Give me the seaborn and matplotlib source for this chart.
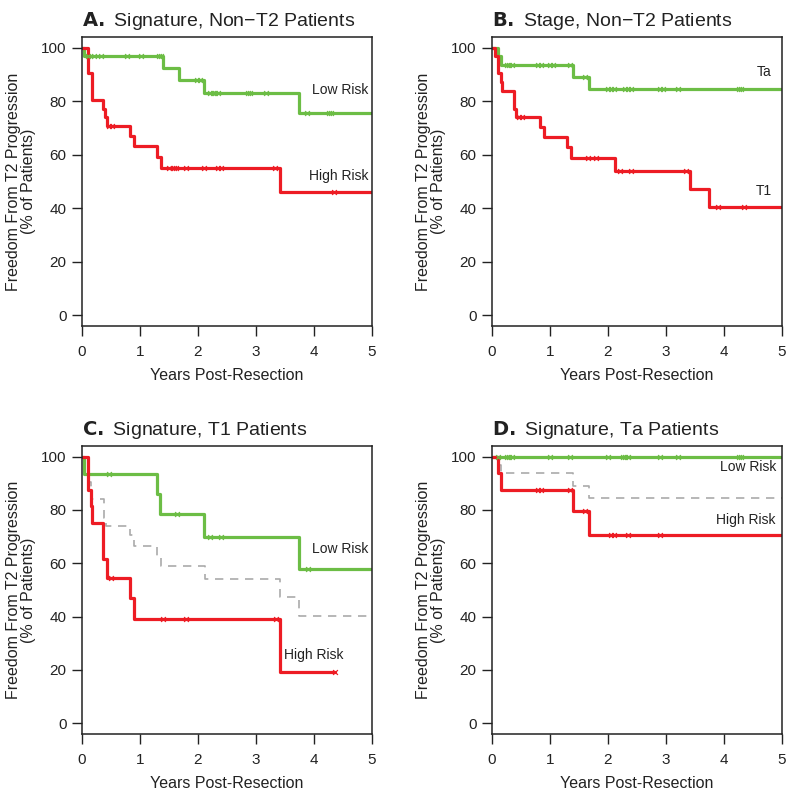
import numpy as np
import pandas as pd
import matplotlib
matplotlib.use("Agg")
import matplotlib.pyplot as plt
import seaborn as sns

# Kaplan-Meier step curves: event times (years) and % free of T2 progression after each step
# censor times listed separately

# A. signature, non-T2
a_low_t = [0, 0.03, 1.40, 1.68, 2.11, 3.74, 5]
a_low_s = [100, 96.9, 92.5, 88.0, 83.1, 75.6, 75.6]
a_low_c = [0.11, 0.20, 0.32, 0.78, 1.02, 1.32, 1.36, 1.98, 2.04, 2.20, 2.25, 2.30, 2.35, 2.87, 2.90, 3.17, 3.88, 4.26, 4.30]
a_high_t = [0, 0.10, 0.17, 0.37, 0.40, 0.43, 0.83, 0.90, 1.29, 1.36, 3.42, 5]
a_high_s = [100, 90.4, 80.6, 77.0, 74.1, 70.6, 66.9, 63.1, 59.1, 55.0, 46.0, 46.0]
a_high_c = [0.47, 0.52, 1.50, 1.58, 1.62, 1.80, 2.10, 2.35, 2.40, 3.33, 4.34]

# B. stage, non-T2
b_ta_t = [0, 0.10, 0.16, 1.39, 1.68, 5]
b_ta_s = [100, 97.0, 93.7, 89.0, 84.4, 84.4]
b_ta_c = [0.25, 0.30, 0.35, 0.80, 0.85, 1.00, 1.05, 1.35, 1.60, 2.00, 2.05, 2.10, 2.30, 2.35, 2.40, 2.90, 2.95, 3.20, 4.25, 4.30]
b_t1_t = [0, 0.05, 0.10, 0.16, 0.18, 0.38, 0.42, 0.82, 0.89, 1.29, 1.36, 2.12, 3.42, 3.74, 5]
b_t1_s = [100, 97.0, 90.4, 87.0, 84.0, 77.0, 74.0, 70.4, 66.6, 62.8, 58.8, 54.0, 47.2, 40.4, 40.4]
b_t1_c = [0.47, 0.52, 1.65, 1.80, 2.20, 2.40, 3.35, 3.90, 4.35]

# C. signature, T1
c_low_t = [0, 0.03, 1.29, 1.35, 2.11, 3.74, 5]
c_low_s = [100, 93.4, 85.9, 78.4, 69.9, 58.0, 58.0]
c_low_c = [0.46, 1.64, 2.20, 2.40, 3.90]
c_high_t = [0, 0.10, 0.155, 0.17, 0.37, 0.43, 0.82, 0.89, 3.42, 4.36]
c_high_s = [100, 87.5, 81.5, 75.0, 61.5, 54.6, 46.9, 39.0, 19.4, 19.4]
c_high_c = [0.50, 1.40, 1.80, 3.35, 4.36]

# D. signature, Ta
d_low_t = [0, 5]
d_low_s = [100, 100]
d_low_c = [0.10, 0.25, 0.30, 0.35, 1.00, 1.35, 2.00, 2.25, 2.30, 2.35, 2.90, 3.20, 4.25, 4.30]
d_high_t = [0, 0.10, 0.16, 1.39, 1.68, 5]
d_high_s = [100, 93.7, 87.5, 79.5, 70.6, 70.6]
d_high_c = [0.80, 0.85, 1.35, 1.60, 2.05, 2.10, 2.35, 2.90]

green = "#6cbd45"
red = "#ed1c24"
gray = "#aaaaaa"

sns.set_style("ticks")
plt.rcParams['font.family'] = ['Liberation Sans', 'DejaVu Sans']
plt.rcParams['axes.edgecolor'] = '#222222'
plt.rcParams['xtick.color'] = '#222222'
plt.rcParams['ytick.color'] = '#222222'
plt.rcParams['text.color'] = '#222222'
plt.rcParams['axes.labelcolor'] = '#222222'


def km(ax, t, s, c, color, dashed=False):
    df = pd.DataFrame({'t': t, 's': s})
    sns.lineplot(data=df, x='t', y='s', ax=ax, estimator=None, sort=False,
                 drawstyle='steps-post', color=color,
                 lw=1.2 if dashed else 2.3,
                 linestyle=(0, (5, 4)) if dashed else '-')
    if c:
        idx = np.searchsorted(t, c, side='right') - 1
        cy = np.asarray(s)[idx]
        sns.scatterplot(x=c, y=cy, ax=ax, marker='x', color=color, s=12,
                        linewidth=0.9, zorder=3)


def style(ax, letter, title):
    ax.set_xlim(0, 5)
    ax.set_ylim(-4, 104)
    ax.set_xticks(range(6))
    ax.set_yticks(range(0, 101, 20))
    for sp in ax.spines.values():
        sp.set_visible(True)
        sp.set_linewidth(1.1)
    ax.tick_params(axis='both', direction='out', length=7.5, width=1.0,
                   labelsize=11, top=False, right=False)
    ax.tick_params(axis='x', pad=6)
    ax.set_xlabel('Years Post-Resection', fontsize=11.5, labelpad=7)
    ax.set_ylabel('Freedom From T2 Progression\n(% of Patients)', fontsize=11.5,
                  linespacing=1.0)
    ax.set_title(r'$\bf{' + letter + r'.}$ ' + title, loc='left', fontsize=14, pad=8)


fig = plt.figure(figsize=(8, 7.96), dpi=100)
axA = fig.add_axes([0.1025, 0.5905, 0.3625, 0.363])
axB = fig.add_axes([0.615, 0.5905, 0.3625, 0.363])
axC = fig.add_axes([0.1025, 0.0779, 0.3625, 0.362])
axD = fig.add_axes([0.615, 0.0779, 0.3625, 0.362])

# A
km(axA, a_low_t, a_low_s, a_low_c, green)
km(axA, a_high_t, a_high_s, a_high_c, red)
style(axA, 'A', 'Signature, Non\u2212T2 Patients')
axA.text(4.94, 84.1, 'Low Risk', ha='right', va='center', fontsize=10)
axA.text(4.94, 51.9, 'High Risk', ha='right', va='center', fontsize=10)

# B
km(axB, b_ta_t, b_ta_s, b_ta_c, green)
km(axB, b_t1_t, b_t1_s, b_t1_c, red)
style(axB, 'B', 'Stage, Non\u2212T2 Patients')
axB.text(4.82, 90.9, 'Ta', ha='right', va='center', fontsize=10)
axB.text(4.82, 46.3, 'T1', ha='right', va='center', fontsize=10)

# C (gray dashed = all T1 patients)
km(axC, b_t1_t, b_t1_s, [], gray, dashed=True)
km(axC, c_low_t, c_low_s, c_low_c, green)
km(axC, c_high_t, c_high_s, c_high_c, red)
style(axC, 'C', 'Signature, T1 Patients')
axC.text(4.93, 65.3, 'Low Risk', ha='right', va='center', fontsize=10)
axC.text(3.49, 25.6, 'High Risk', ha='left', va='center', fontsize=10)

# D (gray dashed = all Ta patients)
km(axD, b_ta_t, b_ta_s, [], gray, dashed=True)
km(axD, d_low_t, d_low_s, d_low_c, green)
km(axD, d_high_t, d_high_s, d_high_c, red)
style(axD, 'D', 'Signature, Ta Patients')
axD.text(4.9, 96.1, 'Low Risk', ha='right', va='center', fontsize=10)
axD.text(4.88, 76.3, 'High Risk', ha='right', va='center', fontsize=10)

fig.savefig('out.png', dpi=100)
